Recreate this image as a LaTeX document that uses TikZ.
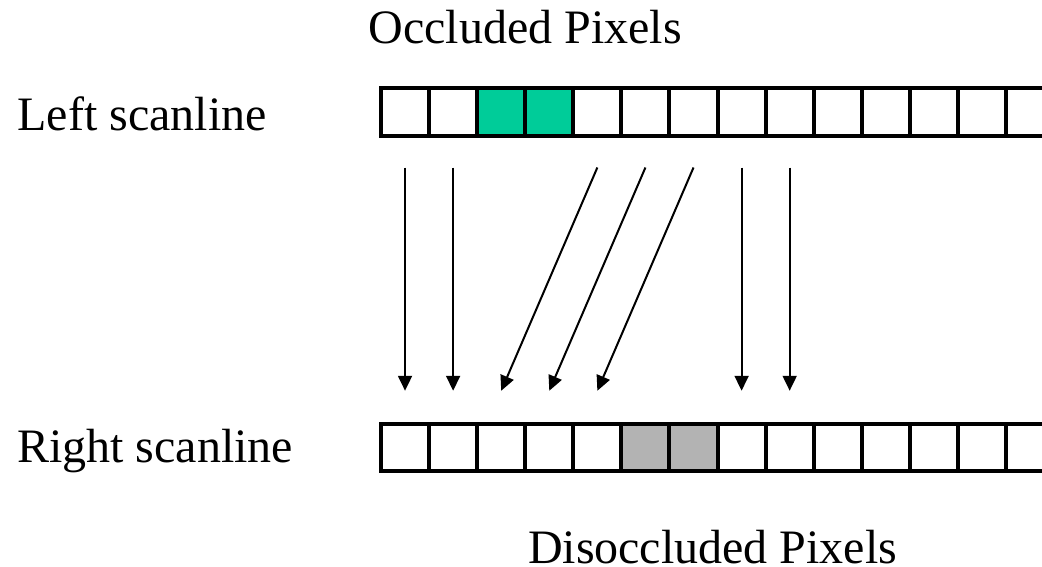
\documentclass[tikz,border=0pt]{standalone}
\usepackage{fontspec}
\setmainfont{Liberation Serif}
\usetikzlibrary{arrows.meta}
\definecolor{occgreen}{RGB}{0,204,153}
\definecolor{disgray}{RGB}{179,179,179}
\begin{document}
\begin{tikzpicture}[x=1pt,y=-1pt,
  cell/.style={draw=black,line width=4pt,minimum width=48.08pt,minimum height=47.5pt,
    inner sep=0pt,outer sep=0pt,fill=white},
  label/.style={anchor=base west,inner sep=0pt,outer sep=0pt,
    font=\fontsize{48}{58}\selectfont},
  maparrow/.style={line width=2pt,-{Triangle[length=15pt,width=14pt]}}]
\useasboundingbox (0,0) rectangle (1042,566);
\clip (0,0) rectangle (1042,566);

% scanline cells
\foreach \k in {0,...,13} {
  \node[cell] (L\k) at ({405.04+48.08*\k},111.75) {};
  \node[cell] (R\k) at ({405.04+48.08*\k},447.5) {};
}
% occluded and disoccluded pixels
\node[cell,fill=occgreen] (L2) at ({405.04+48.08*2},111.75) {};
\node[cell,fill=occgreen] (L3) at ({405.04+48.08*3},111.75) {};
\node[cell,fill=disgray] (R5) at ({405.04+48.08*5},447.5) {};
\node[cell,fill=disgray] (R6) at ({405.04+48.08*6},447.5) {};

% labels
\node[label] (occ) at (368.5,43) {Occluded Pixels};
\node[label] (lsc) at (17.4,130) {Left scanline};
\node[label] (rsc) at (17.2,462.5) {Right scanline};
\node[label] (dis) at (528,563) {Disoccluded Pixels};

% correspondences between the scanlines
\foreach \a/\b in {0/0,1/1,4/2,5/3,6/4,7/7,8/8} {
  \draw[maparrow] ([yshift=-32pt]L\a.south) -- ([yshift=33pt]R\b.north);
}
\end{tikzpicture}
\end{document}
